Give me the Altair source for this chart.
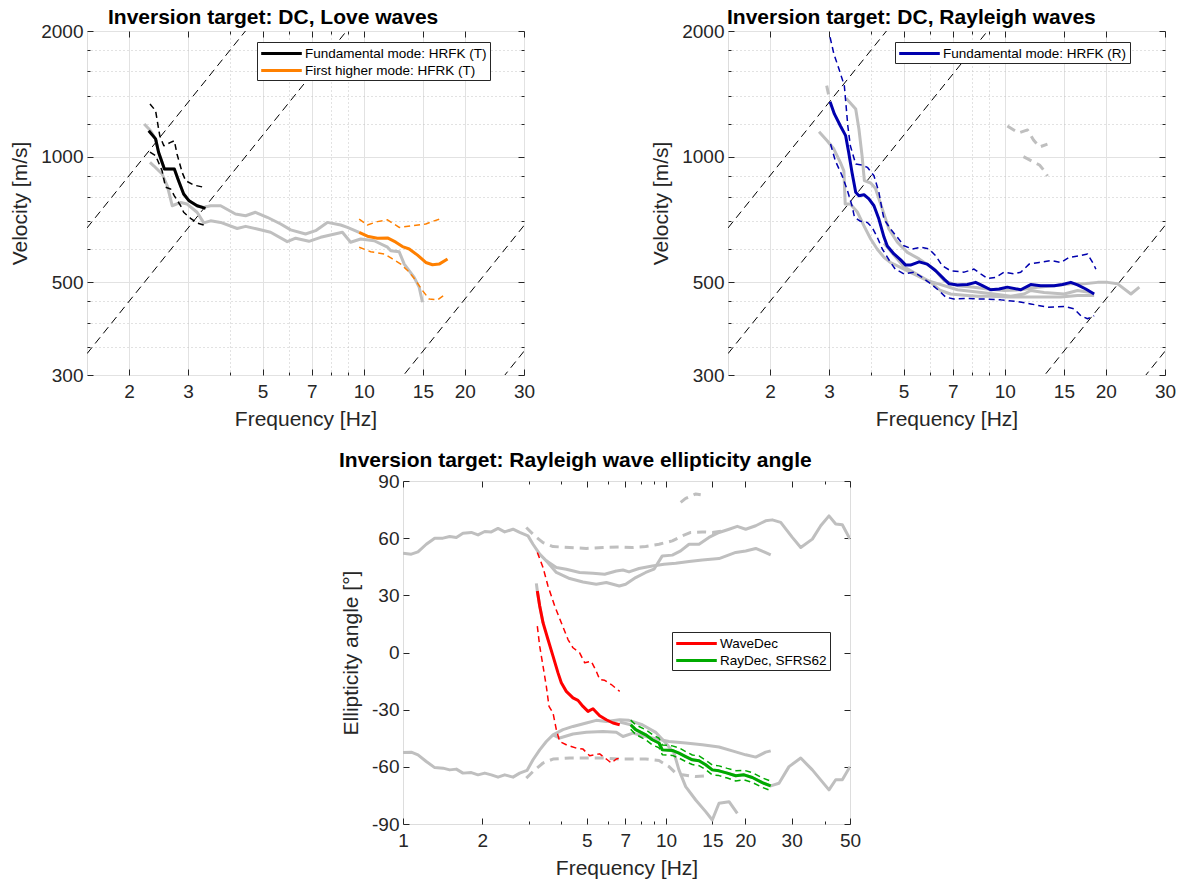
import altair as alt
import pandas as pd

FONT = "Liberation Sans"
INK = "#262626"
GRAY = "#BFBFBF"
BLUE = "#0000AE"
ORANGE = "#FF8000"
RED = "#FF0000"
GREEN = "#00AA00"

# ---------------- Love-wave dispersion panel ----------------
love_fund_f = [2.29, 2.40, 2.45, 2.55, 2.73, 2.81, 2.91, 3.02, 3.19, 3.38]
love_fund_v = [1154, 1103, 1025, 934, 934, 876, 814, 784, 763, 752]
love_fund_hi_f = [2.31, 2.40, 2.47, 2.54, 2.66, 2.73, 2.78, 2.88, 2.95, 3.12, 3.34]
love_fund_hi_v = [1337, 1289, 1123, 1062, 1082, 1092, 1015, 917, 876, 855, 845]
love_fund_lo_f = [2.31, 2.40, 2.51, 2.57, 2.66, 2.73, 2.85, 2.91, 3.05, 3.19, 3.34]
love_fund_lo_v = [1025, 1006, 925, 845, 837, 806, 763, 736, 712, 694, 686]

love_high_f = [9.69, 10.25, 10.98, 11.77, 12.46, 13.04, 13.66, 14.46, 15.30, 16.02, 16.77, 17.76]
love_high_v = [659, 645, 638, 639, 624, 609, 601, 581, 558, 551, 553, 569]
love_high_hi_f = [9.69, 10.25, 10.98, 11.77, 12.75, 13.81, 15.30, 16.21, 17.16]
love_high_hi_v = [709, 686, 699, 706, 677, 683, 690, 702, 712]
love_high_lo_f = [9.69, 10.49, 11.50, 12.18, 12.89, 13.66, 14.29, 14.96, 15.66, 16.58, 17.36]
love_high_lo_v = [607, 592, 585, 569, 553, 529, 505, 478, 456, 454, 466]

love_gray1_f = [2.22, 2.32, 2.40, 2.45, 2.55, 2.73, 2.81, 2.91, 3.02, 3.19, 3.34, 3.50, 3.75,
                4.15, 4.45, 4.76, 5.16, 5.66, 6.06, 6.71, 7.19, 7.79, 8.54, 8.94, 9.69]
love_gray1_v = [1197, 1154, 1103, 1025, 934, 934, 876, 814, 784, 763, 756, 763, 763,
                729, 722, 736, 716, 690, 668, 653, 665, 696, 686, 677, 659]
love_gray2_f = [2.31, 2.37, 2.51, 2.60, 2.69, 2.85, 2.98, 3.19, 3.34, 3.50, 3.75, 4.20, 4.45,
                4.82, 5.28, 5.92, 6.27, 6.87, 7.44, 8.64, 9.14, 9.79, 10.74, 11.77, 12.04,
                12.75, 13.20, 14.13, 14.62, 14.96]
love_gray2_v = [969, 951, 909, 852, 763, 777, 770, 736, 694, 702, 696, 673, 681,
                671, 659, 626, 638, 627, 641, 659, 624, 635, 629, 607, 595,
                592, 553, 514, 487, 448]

# ---------------- Rayleigh-wave dispersion panel ----------------
ray_fund_f = [3.02, 3.11, 3.24, 3.36, 3.43, 3.51, 3.60, 3.68, 3.81, 3.94, 4.08, 4.22, 4.37, 4.47,
              4.68, 4.90, 5.07, 5.24, 5.56, 5.88, 6.23, 6.60, 6.83, 7.23, 7.74, 8.19, 8.58, 9.08,
              9.62, 10.18, 11.16, 11.95, 12.80, 14.03, 14.86, 15.73, 16.47, 17.43, 18.46]
ray_fund_v = [1354, 1266, 1186, 1123, 1025, 917, 822, 806, 811, 792, 763, 709, 642, 611,
              585, 566, 550, 550, 560, 553, 533, 509, 496, 493, 494, 500, 491, 480,
              482, 487, 480, 494, 491, 491, 494, 500, 493, 482, 469]
ray_hi_f = [3.02, 3.10, 3.21, 3.33, 3.37, 3.41, 3.47, 3.60, 3.76, 3.90, 4.08, 4.22, 4.32, 4.37,
            4.57, 4.79, 5.01, 5.31, 5.62, 5.95, 6.23, 6.52, 6.90, 7.57, 8.10, 8.48, 8.88, 9.40,
            9.96, 10.67, 11.16, 11.82, 12.66, 13.71, 14.69, 15.56, 16.66, 17.64, 18.26, 18.68]
ray_hi_v = [1932, 1762, 1622, 1479, 1325, 1186, 1062, 960, 955, 943, 900, 822, 742, 709,
            671, 641, 612, 601, 607, 601, 579, 548, 533, 529, 538, 524, 511, 514,
            529, 524, 529, 553, 558, 564, 558, 574, 579, 585, 558, 538]
ray_lo_f = [3.03, 3.13, 3.28, 3.39, 3.51, 3.57, 3.72, 3.90, 4.03, 4.17, 4.32, 4.56, 4.72, 5.01,
            5.37, 5.68, 6.02, 6.37, 6.67, 7.06, 7.74, 8.29, 8.88, 9.73, 10.91, 11.95, 13.40,
            15.03, 16.10, 16.85, 17.64, 18.46]
ray_lo_v = [1072, 978, 900, 837, 763, 716, 700, 696, 677, 642, 601, 560, 538, 524,
            529, 514, 496, 478, 461, 456, 458, 456, 456, 454, 450, 444, 436,
            438, 432, 416, 409, 416]
ray_gray1_f = [2.80, 2.96, 3.10, 3.24, 3.32, 3.35, 3.47, 3.64, 3.81, 3.99, 4.17, 4.37, 4.57, 5.01,
               5.49, 6.02, 6.44, 6.90, 7.57, 8.29, 9.08, 10.18, 11.42, 13.10, 14.69, 16.47, 18.46]
ray_gray1_v = [1147, 1092, 1043, 969, 924, 770, 770, 737, 683, 635, 601, 574, 558, 538,
               519, 500, 478, 469, 466, 463, 463, 461, 461, 461, 461, 465, 465]
ray_gray2_f = [3.37, 3.60, 3.68, 3.76, 3.82, 3.99, 4.12, 4.32, 4.52, 4.79, 5.13, 5.56, 6.16, 6.60,
               7.23, 8.10, 8.88, 9.96, 11.16, 12.52, 14.03, 15.73, 17.24, 18.90, 20.24, 21.68,
               23.75, 25.16]
ray_gray2_v = [1380, 1301, 1165, 1006, 876, 865, 840, 749, 671, 624, 590, 569, 538, 505,
               491, 487, 482, 478, 480, 487, 491, 496, 496, 500, 500, 496, 469, 487]
ray_gray3_f = [4.37, 5.01, 5.90, 7.23, 9.30, 10.42, 11.42, 11.95, 13.10, 15.03, 16.47, 18.04]
ray_gray3_v = [620, 545, 505, 480, 469, 463, 469, 478, 473, 469, 478, 473]
ray_gdash_a_f = [2.95, 3.00]
ray_gdash_a_v = [1480, 1390]
ray_gdash_u_f = [10.18, 10.98, 11.69, 12.18, 12.69, 13.40]
ray_gdash_u_v = [1184, 1140, 1159, 1096, 1055, 1072]
ray_gdash_l_f = [11.37, 12.01, 12.69, 13.13, 13.40]
ray_gdash_l_v = [1000, 977, 955, 924, 899]

# constant-wavelength reference lines (m) and frequency span
ref_lambda = [450, 225, 22.8, 11.4]
ref_f = [1.5, 30]

# ---------------- Ellipticity panel ----------------
ell_up1_f = [1.000, 1.075, 1.140, 1.226, 1.320, 1.419, 1.505, 1.595, 1.690, 1.818, 1.928, 2.045,
             2.166, 2.297, 2.435, 2.619, 2.777, 2.986, 3.120, 3.308, 3.505, 3.826, 4.301, 4.832,
             5.427, 5.926, 6.64, 7.020, 7.663, 8.366, 8.995, 9.672, 10.56, 11.36, 12.22, 13.34,
             14.55, 15.89, 17.35, 18.65, 20.07, 21.91, 23.90, 25.33, 27.27, 30.18, 32.49, 35.96,
             38.70, 41.60, 44.13, 46.75, 50.0]
ell_up1_a = [52.1, 51.6, 52.8, 56.8, 60.0, 60.0, 60.9, 60.4, 62.6, 63.0, 61.7, 63.5,
             63.3, 65.1, 63.3, 64.7, 63.0, 61.2, 56.8, 51.6, 48.1, 42.0, 38.8, 37.0,
             35.8, 36.7, 34.9, 35.8, 39.3, 42.0, 43.7, 50.7, 51.1, 53.3, 56.8, 56.8,
             60.4, 63.0, 64.7, 66.2, 64.7, 66.5, 69.1, 69.6, 68.3, 60.4, 55.1, 59.5,
             66.5, 71.7, 67.4, 67.0, 59.5]
ell_up2_f = [3.505, 3.826, 4.175, 4.693, 5.273, 5.843, 6.468, 6.857, 7.228, 7.889, 8.863, 9.817,
             10.88, 12.22, 13.73, 15.89, 18.39, 20.07, 21.91, 23.56, 24.98]
ell_up2_a = [48.1, 44.6, 43.7, 42.0, 41.6, 41.1, 42.8, 43.3, 42.3, 44.1, 45.4, 46.3,
             46.8, 47.7, 48.6, 49.3, 52.5, 53.3, 54.6, 52.8, 51.2]
ell_lo1_f = [1.000, 1.075, 1.140, 1.226, 1.320, 1.419, 1.505, 1.595, 1.690, 1.818, 1.928, 2.045,
             2.166, 2.297, 2.435, 2.619, 2.777, 2.960, 3.120, 3.308, 3.505, 3.717, 4.056, 4.427,
             4.974, 5.427, 5.926, 6.662, 7.228, 8.120, 9.130, 9.965, 10.72, 11.19, 11.87, 12.96,
             14.14, 14.98, 15.89, 17.35, 18.65]
ell_lo1_a = [-52.5, -52.3, -53.7, -57.2, -60.4, -60.7, -61.6, -61.2, -63.3, -63.0, -64.2, -63.3,
             -64.2, -65.4, -64.2, -65.4, -63.3, -61.9, -56.3, -51.1, -46.7, -43.2, -40.5, -38.8,
             -37.0, -35.6, -36.2, -35.3, -35.6, -37.9, -41.9, -47.5, -52.8, -61.6, -70.4, -77.4,
             -83.5, -87.9, -79.1, -78.3, -84.4]
ell_lo2_f = [3.717, 3.941, 4.427, 4.974, 5.756, 6.468, 6.857, 7.484, 7.889, 8.863, 10.26, 11.87,
             13.73, 15.89, 18.12, 20.07, 21.91, 23.90, 24.98]
ell_lo2_a = [-43.2, -44.9, -42.8, -41.9, -41.4, -41.9, -44.1, -42.3, -43.2, -44.9, -46.7, -47.5,
             -48.4, -49.6, -51.9, -53.7, -54.9, -52.3, -51.6]
ell_lo3_f = [6.662, 7.336, 7.663, 8.366, 8.863, 9.397, 9.672, 10.56, 11.19, 11.87, 12.58, 13.34,
             14.14, 14.98, 15.89, 17.09, 18.39, 19.78, 21.27, 23.21, 24.98, 26.86, 29.32, 32.49,
             35.96, 41.60, 44.13, 46.75, 50.0]
ell_lo3_a = [-36.5, -37.9, -40.5, -43.2, -45.8, -47.5, -51.1, -51.4, -52.8, -54.6, -56.3, -56.8,
             -58.9, -61.6, -62.1, -63.3, -64.7, -64.2, -65.6, -68.3, -70.0, -68.6, -59.9, -55.4,
             -61.6, -72.1, -66.8, -66.8, -59.9]
ell_gd_up_f = [2.942, 3.167, 3.406, 3.717, 4.301, 4.974, 5.756, 6.662, 7.437, 8.366, 9.397, 10.56,
               11.52, 12.41, 13.73, 14.98, 16.36]
ell_gd_up_a = [65.6, 61.2, 57.7, 55.6, 55.1, 54.6, 55.1, 55.4, 55.1, 55.6, 56.8, 58.6,
               61.2, 63.0, 63.3, 63.0, 63.8]
ell_gd_top_f = [11.36, 11.87, 12.96, 13.54]
ell_gd_top_a = [78.8, 80.9, 83.2, 82.8]
ell_gd_lo_f = [2.942, 3.167, 3.406, 3.717, 4.301, 4.974, 5.756, 6.662, 7.437, 8.366, 9.397, 10.26,
               10.88, 11.52, 12.96, 14.14]
ell_gd_lo_a = [-65.9, -61.6, -58.0, -55.9, -55.4, -55.4, -55.4, -55.9, -55.9, -55.9, -56.7, -59.9,
               -63.3, -64.2, -65.1, -64.7]
ell_gray_red_f = [3.212, 3.240, 3.308, 3.406]
ell_gray_red_a = [36.3, 32.3, 24.4, 15.6]

wave_f = [3.240, 3.308, 3.406, 3.557, 3.717, 3.883, 3.997, 4.175, 4.427, 4.625, 4.832, 5.049,
          5.273, 5.592, 5.926, 6.284, 6.662]
wave_a = [32.3, 24.4, 15.6, 6.8, -1.9, -10.7, -15.9, -20.4, -23.8, -25.1, -28.3, -30.9,
          -29.5, -33.2, -35.3, -37.0, -37.9]
wave_hi_f = [3.240, 3.406, 3.557, 3.773, 3.997, 4.238, 4.427, 4.693, 4.905, 5.195, 5.427, 5.592,
             5.843, 6.191, 6.662]
wave_hi_a = [52.5, 44.6, 34.9, 24.4, 15.6, 6.8, 2.5, -0.2, -5.4, -4.6, -9.8, -14.2,
             -14.6, -16.8, -20.4]
wave_lo_f = [3.240, 3.308, 3.406, 3.505, 3.589, 3.717, 3.826, 3.941, 4.175, 4.557, 4.832, 5.124,
             5.592, 5.926, 6.191, 6.468, 6.662]
wave_lo_a = [13.8, 3.3, -7.2, -17.7, -28.3, -31.7, -40.5, -46.7, -48.4, -50.2, -50.7, -54.2,
             -53.2, -55.9, -58.0, -55.9, -55.4]

ray_ell_f = [7.336, 7.663, 8.366, 8.863, 9.397, 9.672, 10.56, 11.19, 11.87, 12.58, 13.34, 14.14,
             14.98, 15.89, 17.09, 18.39, 19.78, 21.27, 23.21, 24.98]
ray_ell_a = [-37.9, -40.5, -43.2, -45.8, -47.5, -51.1, -51.4, -52.8, -54.6, -56.3, -56.8, -58.9,
             -61.6, -62.1, -63.3, -64.7, -64.2, -65.6, -68.3, -70.0]
ray_ell_hi_a = [-35.5, -38.0, -40.5, -43.0, -45.0, -48.5, -49.0, -50.0, -52.0, -53.8, -54.3, -56.5,
                -59.0, -59.5, -60.8, -62.0, -61.8, -63.0, -65.8, -67.5]
ray_ell_lo_a = [-40.3, -43.0, -45.8, -48.5, -50.0, -53.6, -54.0, -55.4, -57.2, -58.8, -59.4, -61.4,
                -64.2, -64.6, -65.9, -67.4, -66.8, -68.2, -70.8, -72.5]

# ---------------- axis tick values ----------------
top_x_major = [2, 3, 5, 7, 10, 15, 20, 30]
top_x_minor = [4, 6, 8, 9]
top_y_major = [300, 500, 1000, 2000]
top_y_minor = [350, 400, 450, 600, 700, 800, 900, 1200, 1400, 1600, 1800]
bot_x_major = [1, 2, 5, 7, 10, 15, 20, 30, 50]
bot_x_minor = [3, 4, 6, 8, 9, 40]
bot_y_major = [-90, -60, -30, 0, 30, 60, 90]

W_TOP, H_TOP = 437, 344
W_BOT, H_BOT = 447, 343
W_SPACER = 306


def line(x, y, xf, yf, xs, ys, color, width, dash=None, legend=None):
    d = pd.DataFrame({xf: x, yf: y})
    d["i"] = list(range(len(d)))
    kw = dict(strokeWidth=width, clip=True, strokeJoin="round")
    if dash is not None:
        kw["strokeDash"] = dash
    enc = dict(x=alt.X(f"{xf}:Q", scale=xs, axis=None),
               y=alt.Y(f"{yf}:Q", scale=ys, axis=None),
               order=alt.Order("i:Q"))
    if legend is None:
        kw["color"] = color
    else:
        name, dom, rng, leg = legend
        d["series"] = name
        enc["color"] = alt.Color("series:N", scale=alt.Scale(domain=dom, range=rng), legend=leg)
    return alt.Chart(d).mark_line(**kw).encode(**enc)


def axis_layers(xf, yf, xs, ys, dx, dy, xmaj, xmin, ymaj, ymin, xtitle, ytitle, grid):
    base = pd.DataFrame({xf: dx, yf: dy})
    lab = dict(labelFont=FONT, labelFontSize=19, labelColor=INK, titleFont=FONT,
               titleFontSize=21, titleColor=INK, titleFontWeight="normal",
               domain=False, ticks=False, labelFlush=False, labelExpr="'' + datum.value")
    gkw = dict(grid=grid, gridColor="#E2E2E2", gridWidth=1)
    layers = [alt.Chart(base).mark_point(opacity=0).encode(
        x=alt.X(f"{xf}:Q", scale=xs, axis=alt.Axis(values=xmaj, title=xtitle, labelPadding=7,
                                                    titlePadding=7, **gkw, **lab)),
        y=alt.Y(f"{yf}:Q", scale=ys, axis=alt.Axis(values=ymaj, title=ytitle, labelPadding=4,
                                                    tickSize=0, titlePadding=10, **gkw, **lab)))]
    blank = dict(labels=False, domain=False, title=None)
    if grid:
        layers.append(alt.Chart(base).mark_point(opacity=0).encode(
            x=alt.X(f"{xf}:Q", scale=xs, axis=alt.Axis(values=xmin, grid=True, gridDash=[1, 3],
                                                        gridColor="#C4C4C4", ticks=False, **blank)),
            y=alt.Y(f"{yf}:Q", scale=ys, axis=alt.Axis(values=ymin, grid=True, gridDash=[1, 3],
                                                        gridColor="#C4C4C4", ticks=False, **blank))))
    for ox, oy, vx, vy, sz in [("bottom", "left", xmaj, ymaj, 6), ("top", "right", xmaj, ymaj, 6),
                               ("bottom", "left", xmin, ymin, 3), ("top", "right", xmin, ymin, 3)]:
        ax = lambda o, v: alt.Axis(orient=o, values=v, ticks=True, tickSize=sz, offset=-sz,
                                   tickColor=INK, tickWidth=1, grid=False, **blank)
        layers.append(alt.Chart(base).mark_point(opacity=0).encode(
            x=alt.X(f"{xf}:Q", scale=xs, axis=ax(ox, vx)),
            y=alt.Y(f"{yf}:Q", scale=ys, axis=ax(oy, vy) if vy else None)))
    return layers


def legend(x, y):
    return alt.Legend(title=None, orient="none", legendX=x, legendY=y,
                      symbolType="M-2.9,0H2.9", symbolSize=196, symbolStrokeWidth=3,
                      symbolOffset=13, labelOffset=15, labelFont=FONT, labelFontSize=13.5,
                      labelColor="black", labelLimit=400, strokeColor=INK, fillColor="white",
                      padding=3, rowPadding=2)


def title(text, dx, off):
    return alt.TitleParams(text, anchor="start", frame="group", dx=dx, offset=off,
                           font=FONT, fontSize=21, fontWeight="bold", color="black")


def ref_lines(xs, ys):
    out = []
    for lam in ref_lambda:
        out.append(line(ref_f, [lam * f for f in ref_f], "f", "v", xs, ys, "black", 1, [8, 5]))
    return out


# ---------------- Love panel ----------------
xs_t = alt.Scale(type="log", domain=[1.5, 30], nice=False)
ys_t = alt.Scale(type="log", domain=[300, 2000], nice=False)

love_dom = ["Fundamental mode: HRFK (T)", "First higher mode: HFRK (T)"]
love_rng = ["black", ORANGE]
love_leg = legend(170, 11)

love_layers = axis_layers("f", "v", xs_t, ys_t, [1.5, 30], [300, 2000], top_x_major, top_x_minor,
                          top_y_major, top_y_minor, "Frequency [Hz]", "Velocity [m/s]", True)
love_layers += ref_lines(xs_t, ys_t)
love_layers += [
    line(love_gray1_f, love_gray1_v, "f", "v", xs_t, ys_t, GRAY, 3),
    line(love_gray2_f, love_gray2_v, "f", "v", xs_t, ys_t, GRAY, 3),
    line(love_fund_hi_f, love_fund_hi_v, "f", "v", xs_t, ys_t, "black", 1.5, [6, 4]),
    line(love_fund_lo_f, love_fund_lo_v, "f", "v", xs_t, ys_t, "black", 1.5, [6, 4]),
    line(love_high_hi_f, love_high_hi_v, "f", "v", xs_t, ys_t, ORANGE, 1.5, [6, 4]),
    line(love_high_lo_f, love_high_lo_v, "f", "v", xs_t, ys_t, ORANGE, 1.5, [6, 4]),
    line(love_fund_f, love_fund_v, "f", "v", xs_t, ys_t, None, 3,
         legend=(love_dom[0], love_dom, love_rng, love_leg)),
    line(love_high_f, love_high_v, "f", "v", xs_t, ys_t, None, 3,
         legend=(love_dom[1], love_dom, love_rng, love_leg)),
]
love = alt.layer(*love_layers).resolve_axis(x="independent", y="independent").properties(
    width=W_TOP, height=H_TOP, title=title("Inversion target: DC, Love waves", 21, -6))

# ---------------- Rayleigh panel ----------------
ray_dom = ["Fundamental mode: HRFK (R)"]
ray_leg = legend(167, 11)
ray_layers = axis_layers("f", "v", xs_t, ys_t, [1.5, 30], [300, 2000], top_x_major, top_x_minor,
                         top_y_major, top_y_minor, "Frequency [Hz]", "Velocity [m/s]", True)
ray_layers += ref_lines(xs_t, ys_t)
ray_layers += [
    line(ray_gray1_f, ray_gray1_v, "f", "v", xs_t, ys_t, GRAY, 3),
    line(ray_gray2_f, ray_gray2_v, "f", "v", xs_t, ys_t, GRAY, 3),
    line(ray_gray3_f, ray_gray3_v, "f", "v", xs_t, ys_t, GRAY, 3),
    line(ray_gdash_a_f, ray_gdash_a_v, "f", "v", xs_t, ys_t, GRAY, 3, [9, 6]),
    line(ray_gdash_u_f, ray_gdash_u_v, "f", "v", xs_t, ys_t, GRAY, 3, [9, 6]),
    line(ray_gdash_l_f, ray_gdash_l_v, "f", "v", xs_t, ys_t, GRAY, 3, [9, 6]),
    line(ray_hi_f, ray_hi_v, "f", "v", xs_t, ys_t, BLUE, 1.5, [6, 4]),
    line(ray_lo_f, ray_lo_v, "f", "v", xs_t, ys_t, BLUE, 1.5, [6, 4]),
    line(ray_fund_f, ray_fund_v, "f", "v", xs_t, ys_t, None, 3,
         legend=(ray_dom[0], ray_dom, [BLUE], ray_leg)),
]
ray = alt.layer(*ray_layers).resolve_axis(x="independent", y="independent").properties(
    width=W_TOP, height=H_TOP, title=title("Inversion target: DC, Rayleigh waves", -1, -6))

# ---------------- Ellipticity panel ----------------
xs_b = alt.Scale(type="log", domain=[1, 50], nice=False)
ys_b = alt.Scale(type="linear", domain=[-90, 90], nice=False, zero=False)
ell_dom = ["WaveDec", "RayDec, SFRS62"]
ell_rng = [RED, GREEN]
ell_leg = legend(269, 151)
ell_layers = axis_layers("f", "a", xs_b, ys_b, [1, 50], [-90, 90], bot_x_major, bot_x_minor,
                         bot_y_major, [], "Frequency [Hz]", "Ellipticity angle [°]", False)
ell_layers += [
    line(ell_up1_f, ell_up1_a, "f", "a", xs_b, ys_b, GRAY, 3),
    line(ell_up2_f, ell_up2_a, "f", "a", xs_b, ys_b, GRAY, 3),
    line(ell_lo1_f, ell_lo1_a, "f", "a", xs_b, ys_b, GRAY, 3),
    line(ell_lo2_f, ell_lo2_a, "f", "a", xs_b, ys_b, GRAY, 3),
    line(ell_lo3_f, ell_lo3_a, "f", "a", xs_b, ys_b, GRAY, 3),
    line(ell_gray_red_f, ell_gray_red_a, "f", "a", xs_b, ys_b, GRAY, 3),
    line(ell_gd_up_f, ell_gd_up_a, "f", "a", xs_b, ys_b, GRAY, 3, [9, 6]),
    line(ell_gd_top_f, ell_gd_top_a, "f", "a", xs_b, ys_b, GRAY, 3, [9, 6]),
    line(ell_gd_lo_f, ell_gd_lo_a, "f", "a", xs_b, ys_b, GRAY, 3, [9, 6]),
    line(wave_hi_f, wave_hi_a, "f", "a", xs_b, ys_b, RED, 1.5, [6, 4]),
    line(wave_lo_f, wave_lo_a, "f", "a", xs_b, ys_b, RED, 1.5, [6, 4]),
    line(ray_ell_f, ray_ell_hi_a, "f", "a", xs_b, ys_b, GREEN, 1.5, [6, 4]),
    line(ray_ell_f, ray_ell_lo_a, "f", "a", xs_b, ys_b, GREEN, 1.5, [6, 4]),
    line(wave_f, wave_a, "f", "a", xs_b, ys_b, None, 3,
         legend=(ell_dom[0], ell_dom, ell_rng, ell_leg)),
    line(ray_ell_f, ray_ell_a, "f", "a", xs_b, ys_b, None, 3,
         legend=(ell_dom[1], ell_dom, ell_rng, ell_leg)),
]
ell = alt.layer(*ell_layers).resolve_axis(x="independent", y="independent").properties(
    width=W_BOT, height=H_BOT,
    title=title("Inversion target: Rayleigh wave ellipticity angle", -64, 1))

spacer = alt.Chart(pd.DataFrame({"s": [0]})).mark_point(opacity=0).encode(
    x=alt.X("s:Q", axis=None), y=alt.Y("s:Q", axis=None)
).properties(width=W_SPACER, height=H_BOT, view=alt.ViewBackground(stroke="transparent"))

top = alt.hconcat(love, ray, spacing=204, bounds="flush").resolve_scale(color="independent")
bottom = alt.hconcat(spacer, ell, spacing=10, bounds="flush").resolve_scale(color="independent")
chart = alt.vconcat(top, bottom, spacing=19).resolve_scale(color="independent").properties(
    padding={"left": 9, "top": 6, "right": 0, "bottom": 2}
).configure_view(stroke=INK, strokeWidth=1).configure(font=FONT, background="white")

chart.save("out.html", embed_options={"renderer": "svg", "actions": False})
